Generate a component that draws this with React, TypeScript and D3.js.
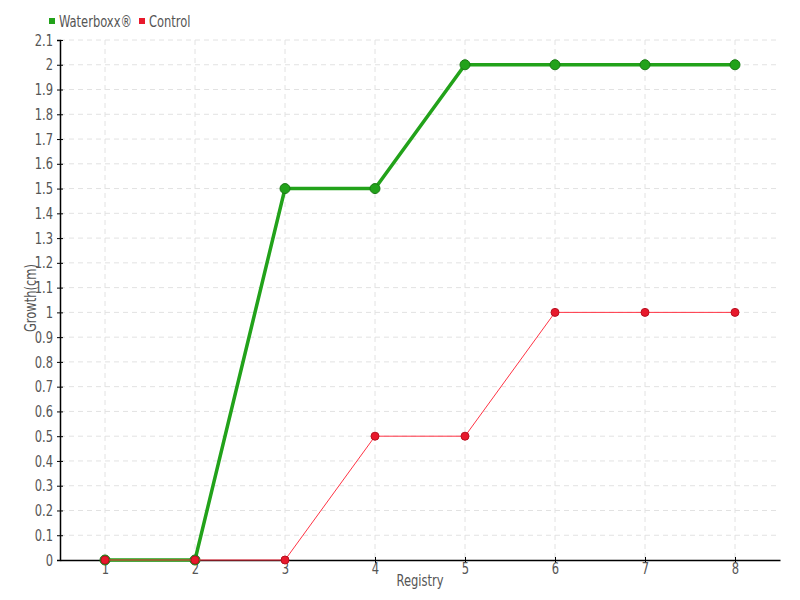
import * as d3 from "d3";
import { useEffect, useRef } from "react";

const registry = [1, 2, 3, 4, 5, 6, 7, 8];
const waterboxx = [0, 0, 1.5, 1.5, 2, 2, 2, 2];
const control = [0, 0, 0, 0.5, 0.5, 1, 1, 1];
const yTicks = d3.range(0, 22).map((i) => i / 10);

const width = 800;
const height = 600;
const pad = { top: 40, right: 20, bottom: 40, left: 60 };
const font = "'DejaVu Sans Condensed', 'Liberation Sans Narrow', sans-serif";
const squeeze = 0.8; // reference font is very narrow

export default function App() {
  const svgRef = useRef<SVGSVGElement | null>(null);

  useEffect(() => {
    const svg = d3.select(svgRef.current);
    svg.selectAll("*").remove();

    const x = d3.scaleLinear().domain([0.5, 8.5]).range([pad.left, width - pad.right]);
    const y = d3.scaleLinear().domain([0, 2.1]).range([height - pad.bottom, pad.top]);

    // grid
    const grid = svg.append("g").attr("stroke", "#e2e2e2").attr("stroke-dasharray", "5,4");
    grid
      .selectAll("line.h")
      .data(yTicks.slice(1))
      .join("line")
      .attr("x1", pad.left)
      .attr("x2", width - pad.right)
      .attr("y1", (d) => y(d))
      .attr("y2", (d) => y(d));
    grid
      .selectAll("line.v")
      .data(registry)
      .join("line")
      .attr("x1", (d) => x(d))
      .attr("x2", (d) => x(d))
      .attr("y1", pad.top)
      .attr("y2", height - pad.bottom);

    // axes
    const yAxis = svg
      .append("g")
      .attr("transform", `translate(${pad.left},0)`)
      .call(
        d3
          .axisLeft(y)
          .tickValues(yTicks)
          .tickSize(3)
          .tickFormat((d) => d3.format("")(+(+d).toFixed(1)))
      );
    yAxis.select(".domain").attr("stroke", "#000").attr("stroke-width", 1.5);
    yAxis.selectAll(".tick line").attr("x2", 3).attr("x1", -3).attr("stroke", "#000");
    yAxis
      .selectAll(".tick text")
      .attr("x", -7 / squeeze)
      .attr("transform", `scale(${squeeze},1)`)
      .attr("fill", "#555")
      .style("font-size", "16px")
      .style("font-family", font);

    const xAxis = svg
      .append("g")
      .attr("transform", `translate(0,${height - pad.bottom})`)
      .call(d3.axisBottom(x).tickValues(registry).tickSize(3).tickSizeOuter(0));
    xAxis.select(".domain").attr("stroke", "#000").attr("stroke-width", 1.5);
    xAxis.selectAll(".tick line").attr("y1", -3).attr("y2", 3).attr("stroke", "#000");
    xAxis
      .selectAll(".tick text")
      .attr("y", 3)
      .attr("transform", `scale(${squeeze},1)`)
      .attr("fill", "#555")
      .style("font-size", "16px")
      .style("font-family", font);

    // axis titles
    svg
      .append("text")
      .attr("transform", `translate(${(pad.left + width - pad.right) / 2},586) scale(${squeeze},1)`)
      .attr("text-anchor", "middle")
      .attr("fill", "#555")
      .style("font-size", "16px")
      .style("font-family", font)
      .text("Registry");
    svg
      .append("text")
      .attr(
        "transform",
        `translate(36,${(pad.top + height - pad.bottom) / 2 - 2}) rotate(-90) scale(${squeeze},1)`
      )
      .attr("text-anchor", "middle")
      .attr("fill", "#555")
      .style("font-size", "16px")
      .style("font-family", font)
      .text("Growth(cm)");

    const line = d3
      .line<number>()
      .x((_, i) => x(registry[i]))
      .y((d) => y(d));

    // Waterboxx
    svg
      .append("path")
      .datum(waterboxx)
      .attr("fill", "none")
      .attr("stroke", "#22a21a")
      .attr("stroke-width", 3.5)
      .attr("d", line);
    svg
      .append("g")
      .selectAll("circle")
      .data(waterboxx)
      .join("circle")
      .attr("cx", (_, i) => x(registry[i]))
      .attr("cy", (d) => y(d))
      .attr("r", 5)
      .attr("fill", "#22a21a")
      .attr("stroke", "#1a7a14")
      .attr("stroke-width", 1);

    // Control
    svg
      .append("path")
      .datum(control)
      .attr("fill", "none")
      .attr("stroke", "#ff3344")
      .attr("stroke-width", 1)
      .attr("d", line);
    svg
      .append("g")
      .selectAll("circle")
      .data(control)
      .join("circle")
      .attr("cx", (_, i) => x(registry[i]))
      .attr("cy", (d) => y(d))
      .attr("r", 4)
      .attr("fill", "#e8192c")
      .attr("stroke", "#b81020")
      .attr("stroke-width", 1);

    // legend
    const legend = [
      { name: "Waterboxx®", color: "#22a21a", x: 49 },
      { name: "Control", color: "#e8192c", x: 139 },
    ];
    const lg = svg.append("g").selectAll("g").data(legend).join("g");
    lg.append("rect")
      .attr("x", (d) => d.x)
      .attr("y", 18)
      .attr("width", 6)
      .attr("height", 6)
      .attr("fill", (d) => d.color);
    lg.append("text")
      .attr("transform", (d) => `translate(${d.x + 10},27) scale(${squeeze},1)`)
      .attr("fill", "#555")
      .style("font-size", "16px")
      .style("font-family", font)
      .text((d) => d.name);
  }, []);

  return (
    <div style={{ position: "absolute", left: 0, top: 0 }}>
      <svg ref={svgRef} width={width} height={height} style={{ display: "block", background: "#fff" }} />
    </div>
  );
}
